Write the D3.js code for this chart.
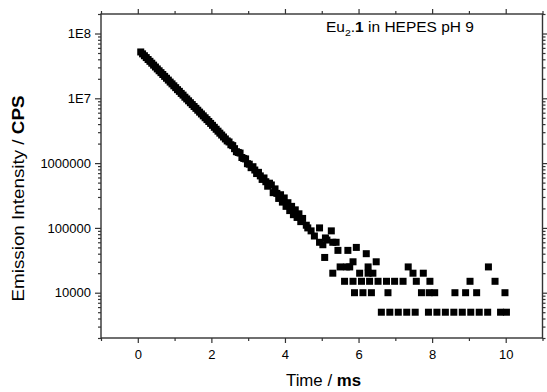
<!DOCTYPE html>
<html>
<head>
<meta charset="utf-8">
<script src="https://cdn.jsdelivr.net/npm/d3@7"></script>
<style>
  html, body { margin: 0; padding: 0; background: #fff; }
  svg { display: block; font-family: "Liberation Sans", Arial, sans-serif; }
</style>
</head>
<body>
<svg id="chart" width="547" height="392"></svg>
<script>
// Decay part of the luminescence trace (time in ms, intensity in CPS)
const decayTime = [0.08, 0.13, 0.18, 0.23, 0.28, 0.33, 0.38, 0.43, 0.48, 0.53,
  0.58, 0.63, 0.68, 0.73, 0.78, 0.83, 0.88, 0.93, 0.98, 1.03,
  1.08, 1.13, 1.18, 1.23, 1.28, 1.33, 1.38, 1.43, 1.48, 1.53,
  1.58, 1.63, 1.68, 1.73, 1.78, 1.83, 1.88, 1.93, 1.98, 2.03,
  2.08, 2.13, 2.18, 2.23, 2.28, 2.33, 2.38, 2.43, 2.48, 2.53,
  2.58, 2.63, 2.68, 2.73, 2.78, 2.83, 2.88, 2.93, 2.98, 3.03,
  3.08, 3.13, 3.18, 3.23, 3.28, 3.33, 3.38, 3.43, 3.48, 3.53,
  3.58, 3.63, 3.68, 3.73, 3.78, 3.83, 3.88, 3.93, 3.98, 4.03,
  4.08, 4.13, 4.18, 4.23, 4.28, 4.33, 4.38, 4.43, 4.48];
const decayCPS = [51900000, 48500000, 45400000, 42500000, 39700000, 37200000, 34800000, 32500000, 30400000, 28400000,
  26600000, 24900000, 23300000, 21800000, 20400000, 19100000, 17800000, 16700000, 15600000, 14600000,
  13600000, 12800000, 11900000, 11200000, 10400000, 9770000, 9140000, 8550000, 8000000, 7480000,
  7000000, 6550000, 6120000, 5730000, 5360000, 5010000, 4690000, 4390000, 4100000, 3830000,
  3570000, 3330000, 3110000, 2900000, 2710000, 2530000, 2360000, 2200000, 2120000, 1920000,
  1860000, 1670000, 1500000, 1460000, 1430000, 1220000, 1180000, 1160000, 980000, 962000,
  850000, 880000, 782000, 690000, 720000, 635000, 560000, 590000, 516000, 440000,
  490000, 460000, 350000, 400000, 341000, 285000, 325000, 250000, 290000, 215000,
  245000, 185000, 215000, 160000, 190000, 145000, 165000, 125000, 140000];

// Late, photon-counting part of the trace
const tailTime = [4.58, 4.62, 4.71, 4.80, 4.94, 4.94, 5.03, 5.10, 5.08, 5.14,
  5.26, 5.30, 5.30, 5.39, 5.44, 5.50, 5.62, 5.67, 5.71, 5.76,
  5.85, 5.85, 5.89, 5.94, 6.03, 6.08, 6.12, 6.21, 6.26, 6.26,
  6.30, 6.35, 6.39, 6.48, 6.53, 6.62, 6.76, 6.80, 6.85, 6.98,
  7.08, 7.21, 7.31, 7.35, 7.48, 7.54, 7.57, 7.71, 7.76, 7.90,
  7.92, 7.94, 8.07, 8.13, 8.36, 8.59, 8.62, 8.82, 8.91, 9.05,
  9.03, 9.21, 9.28, 9.51, 9.53, 9.71, 9.86, 9.98, 10.02];
const tailCPS = [110000, 100000, 90000, 75000, 100000, 60000, 55000, 70000, 35000, 65000,
  90000, 60000, 20000, 60000, 45000, 25000, 15000, 25000, 45000, 25000,
  15000, 30000, 10000, 50000, 20000, 15000, 10000, 40000, 25000, 20000,
  15000, 10000, 20000, 30000, 15000, 5000, 15000, 10000, 5000, 15000,
  5000, 15000, 5000, 25000, 20000, 5000, 15000, 10000, 20000, 5000,
  10000, 15000, 10000, 5000, 5000, 5000, 10000, 5000, 10000, 5000,
  15000, 10000, 5000, 5000, 25000, 15000, 5000, 10000, 5000];

const xDomain = [-1, 11];
const yDomain = [2000, 2e8];
const xMajor = [0, 2, 4, 6, 8, 10];
const xMinor = [-1, 1, 3, 5, 7, 9, 11];
const yMajor = [1e4, 1e5, 1e6, 1e7, 1e8];
const yLabels = ["10000", "100000", "1000000", "1E7", "1E8"];

const svg = d3.select("#chart");
const plotLeft = 101, plotRight = 542.5, plotTop = 14, plotBottom = 338;

const x = d3.scaleLinear().domain(xDomain).range([plotLeft, plotRight]);
const y = d3.scaleLog().domain(yDomain).range([plotBottom, plotTop]);

// log minor ticks: 2..9 in each decade within the domain
const yMinor = [];
for (let e = 3; e <= 8; e++) {
  for (let m = 2; m <= 9; m++) {
    const v = m * Math.pow(10, e);
    if (v >= yDomain[0] && v <= yDomain[1]) yMinor.push(v);
  }
}

const axisColor = "#333";

function styleAxis(g) {
  g.select(".domain").remove();
  g.selectAll("line").attr("stroke", axisColor).attr("stroke-width", 1.2);
  g.selectAll("text").attr("fill", "#000").attr("font-size", 13);
}

// bottom axis
svg.append("g").attr("transform", `translate(0,${plotBottom})`)
  .call(d3.axisBottom(x).tickValues(xMajor).tickSize(5).tickPadding(7).tickFormat(d3.format("d")))
  .call(styleAxis);
svg.append("g").attr("transform", `translate(0,${plotBottom})`)
  .call(d3.axisBottom(x).tickValues(xMinor).tickSize(3).tickFormat(""))
  .call(styleAxis);
// top axis (ticks only)
svg.append("g").attr("transform", `translate(0,${plotTop})`)
  .call(d3.axisTop(x).tickValues(xMajor).tickSize(5).tickFormat(""))
  .call(styleAxis);
svg.append("g").attr("transform", `translate(0,${plotTop})`)
  .call(d3.axisTop(x).tickValues(xMinor).tickSize(3).tickFormat(""))
  .call(styleAxis);

// left axis
svg.append("g").attr("transform", `translate(${plotLeft},0)`)
  .call(d3.axisLeft(y).tickValues(yMajor).tickSize(6).tickPadding(4)
    .tickFormat((d, i) => yLabels[i]))
  .call(styleAxis);
svg.append("g").attr("transform", `translate(${plotLeft},0)`)
  .call(d3.axisLeft(y).tickValues(yMinor).tickSize(3).tickFormat(""))
  .call(styleAxis);
// right axis (ticks only)
svg.append("g").attr("transform", `translate(${plotRight},0)`)
  .call(d3.axisRight(y).tickValues(yMajor).tickSize(5).tickFormat(""))
  .call(styleAxis);
svg.append("g").attr("transform", `translate(${plotRight},0)`)
  .call(d3.axisRight(y).tickValues(yMinor).tickSize(3).tickFormat(""))
  .call(styleAxis);

// plot frame
svg.append("rect")
  .attr("x", plotLeft).attr("y", plotTop)
  .attr("width", plotRight - plotLeft).attr("height", plotBottom - plotTop)
  .attr("fill", "none").attr("stroke", axisColor).attr("stroke-width", 1.4);

// data points as filled squares
const pts = decayTime.map((t, i) => [t, decayCPS[i]])
  .concat(tailTime.map((t, i) => [t, tailCPS[i]]));
const sq = 7;
svg.append("g").selectAll("rect").data(pts).join("rect")
  .attr("x", d => x(d[0]) - sq / 2)
  .attr("y", d => y(d[1]) - sq / 2)
  .attr("width", sq).attr("height", sq)
  .attr("fill", "#000");

// axis titles
const xt = svg.append("text")
  .attr("x", 323.5).attr("y", 386)
  .attr("text-anchor", "middle").attr("font-size", 16)
  .attr("textLength", 75).attr("lengthAdjust", "spacingAndGlyphs");
xt.append("tspan").text("Time / ");
xt.append("tspan").attr("font-weight", "bold").text("ms");

const yt = svg.append("text")
  .attr("transform", "translate(23.5,198.5) rotate(-90)")
  .attr("text-anchor", "middle").attr("font-size", 16.5)
  .attr("textLength", 206).attr("lengthAdjust", "spacingAndGlyphs");
yt.append("tspan").text("Emission Intensity / ");
yt.append("tspan").attr("font-weight", "bold").text("CPS");

// sample annotation
const ann = svg.append("text")
  .attr("x", 326).attr("y", 32).attr("font-size", 14)
  .attr("textLength", 148).attr("lengthAdjust", "spacingAndGlyphs");
ann.append("tspan").text("Eu");
ann.append("tspan").attr("font-size", 9.5).attr("dy", 4).text("2");
ann.append("tspan").attr("dy", -4).text(".");
ann.append("tspan").attr("font-weight", "bold").text("1");
ann.append("tspan").text(" in HEPES pH 9");
</script>
</body>
</html>
